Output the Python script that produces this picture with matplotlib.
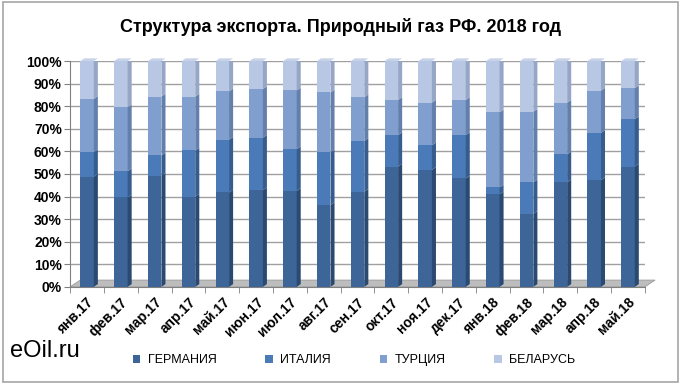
import matplotlib.pyplot as plt
import numpy as np
from matplotlib.patches import Rectangle, Polygon

# Месяцы
months = ['янв.17', 'фев.17', 'мар.17', 'апр.17', 'май.17', 'июн.17', 'июл.17', 'авг.17',
          'сен.17', 'окт.17', 'ноя.17', 'дек.17', 'янв.18', 'фев.18', 'мар.18', 'апр.18', 'май.18']

# Доли экспорта, %
germany = [48.8, 39.6, 49.3, 40.0, 41.8, 42.8, 42.5, 36.3, 42.2, 53.3, 51.8, 48.0, 41.0, 32.4, 46.3, 47.3, 53.3]
italy = [10.9, 11.6, 8.9, 20.4, 23.4, 23.3, 18.5, 23.3, 22.4, 13.9, 10.9, 19.2, 3.0, 13.9, 12.4, 20.9, 21.0]
turkey = [23.6, 28.4, 26.1, 23.9, 21.4, 21.5, 26.0, 26.5, 19.4, 15.6, 18.9, 15.6, 33.3, 31.3, 22.9, 18.7, 13.7]
belarus = [16.7, 20.4, 15.7, 15.7, 13.4, 12.4, 13.0, 13.9, 16.0, 17.2, 18.4, 17.2, 22.7, 22.4, 18.4, 13.1, 12.0]

series = ['ГЕРМАНИЯ', 'ИТАЛИЯ', 'ТУРЦИЯ', 'БЕЛАРУСЬ']
front = ['#3d6597', '#4a7bb8', '#819fce', '#b8c7e3']
side = ['#2b4a72', '#365d8e', '#6380ad', '#95a6c6']

plt.rcParams['font.family'] = ['Liberation Sans', 'DejaVu Sans']

fig = plt.figure(figsize=(6.81, 3.84), dpi=100)
fig.patches.append(Rectangle((0.004, 0.006), 0.992, 0.988, transform=fig.transFigure,
                             fill=False, edgecolor='#a6a6a6', linewidth=1.2))
ax = fig.add_axes([0.103, 0.253, 0.844, 0.588])

data = np.array([germany, italy, turkey, belarus])
data = data / data.sum(axis=0)
x = np.arange(len(months))
w = 0.4
dx, dy = 0.12, 0.012

# пол
floor = Polygon([(-0.5, 0), (16.5, 0), (16.5 + 0.3, 0.03), (-0.5 + 0.3, 0.03)],
                closed=True, facecolor='#bdbdbd', edgecolor='#9a9a9a', lw=0.6, zorder=1, clip_on=False)
ax.add_patch(floor)

bottom = np.zeros(len(months))
for i in range(4):
    vals = data[i]
    ax.bar(x, vals, w, bottom=bottom, color=front[i], label=series[i], zorder=3)
    for xi, b, v in zip(x, bottom, vals):
        ax.fill([xi + w / 2, xi + w / 2 + dx, xi + w / 2 + dx, xi + w / 2],
                [b, b + dy, b + v + dy, b + v], color=side[i], zorder=3, lw=0)
    bottom = bottom + vals

for xi in x:
    ax.fill([xi - w / 2, xi + w / 2, xi + w / 2 + dx, xi - w / 2 + dx],
            [1, 1, 1 + dy, 1 + dy], color='#c9d3e8', zorder=3, lw=0, clip_on=False)

ax.set_xlim(-0.5, 16.5)
ax.set_ylim(0, 1)
ax.set_yticks(np.arange(0, 1.01, 0.1))
ax.set_yticklabels([f'{int(round(v * 100))}%' for v in np.arange(0, 1.01, 0.1)],
                   fontsize=10, fontweight='bold')
ax.set_xticks(x)
ax.set_xticklabels(months, rotation=45, ha='right', rotation_mode='anchor', fontsize=10, fontweight='bold')
ax.set_xticks(np.arange(-0.5, 17, 1), minor=True)
ax.tick_params(axis='x', which='major', length=0, pad=6)
ax.tick_params(axis='x', which='minor', length=4, color='#808080')
ax.tick_params(axis='y', length=4, color='#808080', pad=2)
ax.grid(axis='y', color='#a0a0a0', linewidth=1, zorder=0)
for s in ['top', 'right']:
    ax.spines[s].set_visible(False)
ax.spines['left'].set_color('#808080')
ax.spines['bottom'].set_color('#808080')
ax.set_axisbelow(True)

fig.text(0.5, 0.93, 'Структура экспорта. Природный газ РФ. 2018 год', ha='center', va='center',
         fontsize=13, fontweight='bold')
fig.text(0.015, 0.085, 'eOil.ru', ha='left', va='center', fontsize=17)

fig.legend(loc='center', bbox_to_anchor=(0.52, 0.062), ncol=4, frameon=False, fontsize=9,
           handlelength=0.6, handleheight=0.6, columnspacing=3.9, handletextpad=0.6)

fig.savefig('out.png', dpi=100)
